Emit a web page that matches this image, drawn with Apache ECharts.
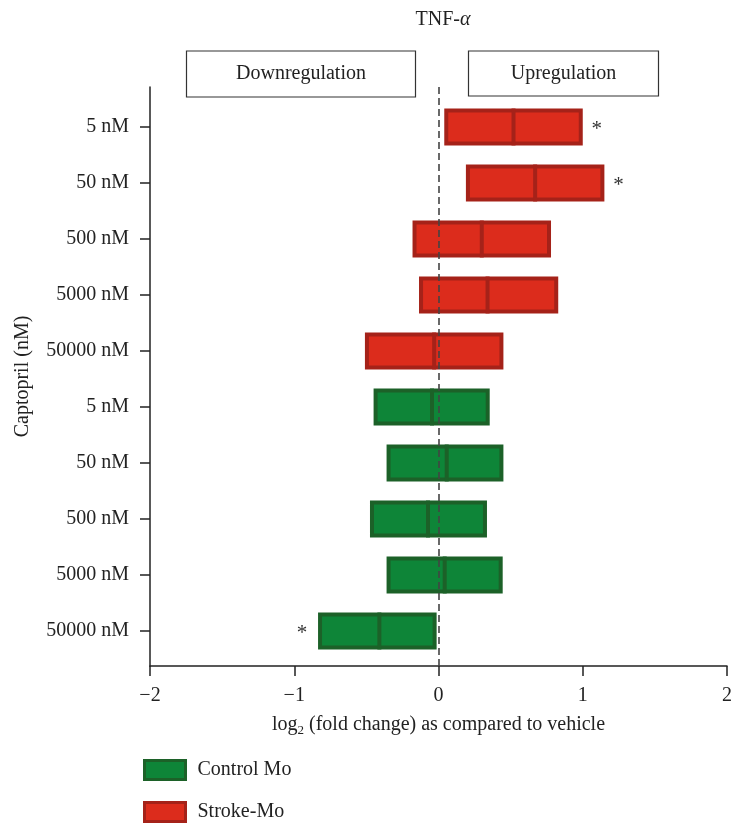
<!DOCTYPE html>
<html>
<head>
<meta charset="utf-8">
<script src="https://cdn.jsdelivr.net/npm/echarts@6/dist/echarts.min.js"></script>
<style>html,body{margin:0;padding:0;background:#fff}#c{width:736px;height:825px}</style>
</head>
<body>
<div id="c"></div>
<script>
// ---- data ----
const doseLabels = ['5 nM', '50 nM', '500 nM', '5000 nM', '50000 nM'];
const rowLabels = doseLabels.concat(doseLabels); // stroke rows then control rows
const strokeLow  = [0.04, 0.19, -0.18, -0.135, -0.51];
const strokeMed  = [0.52, 0.67, 0.30, 0.34, -0.03];
const strokeHigh = [1.00, 1.15, 0.78, 0.83, 0.45];
const strokeSig  = [1, 1, 0, 0, 0];
const controlLow  = [-0.45, -0.36, -0.475, -0.36, -0.835];
const controlMed  = [-0.045, 0.057, -0.073, 0.043, -0.41];
const controlHigh = [0.355, 0.45, 0.336, 0.445, -0.013];
const controlSig  = [0, 0, 0, 0, 1];
const xTicks = [-2, -1, 0, 1, 2];

const FONT = 'Liberation Serif';
const FS = 20;
const red = {fill: '#dc2c1c', border: '#a52219'};
const green = {fill: '#0e8538', border: '#1c6128'};

function rows(offset, lo, md, hi, sig) {
  return lo.map((v, i) => [offset + i, v, md[i], hi[i], sig[i]]);
}
const strokeData = rows(0, strokeLow, strokeMed, strokeHigh, strokeSig);
const controlData = rows(5, controlLow, controlMed, controlHigh, controlSig);

function makeRender(col, sigSide) {
  return function (params, api) {
    const y = api.value(0);
    const pl = api.coord([api.value(1), y]);
    const pm = api.coord([api.value(2), y]);
    const ph = api.coord([api.value(3), y]);
    const h = api.size([0, 1])[1] * 0.66;
    const top = pl[1] - h / 2;
    const children = [
      {type: 'rect', shape: {x: pl[0] + 2, y: top + 2, width: ph[0] - pl[0] - 4, height: h - 4},
       style: {fill: col.fill, stroke: col.border, lineWidth: 4}},
      {type: 'line', shape: {x1: pm[0], y1: top, x2: pm[0], y2: top + h},
       style: {stroke: col.border, lineWidth: 4}}
    ];
    if (api.value(4)) {
      const x = sigSide === 'right' ? ph[0] + 14 : pl[0] - 16;
      children.push({type: 'text', x: x, y: pl[1] + 2,
        style: {text: '*', fill: '#333', font: '21px ' + FONT, align: 'center', verticalAlign: 'middle'}});
    }
    return {type: 'group', children: children};
  };
}

const chart = echarts.init(document.getElementById('c'), null, {renderer: 'canvas'});
chart.setOption({
  animation: false,
  backgroundColor: '#fff',
  textStyle: {fontFamily: FONT},
  title: {
    text: 'TNF-{a|α}', left: 438, top: 5, textAlign: 'center',
    textStyle: {fontFamily: FONT, fontSize: FS, fontWeight: 'normal', color: '#222',
      rich: {a: {fontFamily: FONT, fontSize: FS, fontStyle: 'italic', color: '#222'}}}
  },
  grid: {left: 150, right: 9, top: 87, bottom: 159, containLabel: false, outerBoundsMode: 'none'},
  xAxis: {
    type: 'value', min: -2, max: 2, interval: 1,
    name: 'log{s|2} (fold change) as compared to vehicle',
    nameLocation: 'middle', nameGap: 46,
    nameTextStyle: {fontFamily: FONT, fontSize: FS, color: '#222',
      rich: {s: {fontFamily: FONT, fontSize: 13, color: '#222', verticalAlign: 'bottom', padding: [12, 0, 0, 0]}}},
    axisLine: {show: true, onZero: false, lineStyle: {color: '#222', width: 1.5}},
    axisTick: {show: true, length: 10, lineStyle: {color: '#222', width: 1.5}},
    axisLabel: {fontFamily: FONT, fontSize: FS, color: '#222', margin: 20,
      customValues: xTicks,
      formatter: v => (v < 0 ? '\u2212' + Math.abs(v) : String(v))},
    splitLine: {show: false}
  },
  yAxis: {
    type: 'value', inverse: true, min: -0.714, max: 9.625,
    name: 'Captopril (nM)', nameLocation: 'middle', nameGap: 117, nameRotate: 90,
    nameTextStyle: {fontFamily: FONT, fontSize: FS, color: '#222'},
    axisLine: {show: true, onZero: false, lineStyle: {color: '#222', width: 1.5}},
    axisTick: {show: true, length: 10, customValues: rowLabels.map((_, i) => i),
      lineStyle: {color: '#222', width: 1.5}},
    axisLabel: {fontFamily: FONT, fontSize: FS, color: '#222', margin: 21,
      customValues: rowLabels.map((_, i) => i),
      formatter: v => rowLabels[Math.round(v)]},
    splitLine: {show: false}
  },
  legend: {
    orient: 'vertical', left: 143, top: 759, height: 80, padding: 0,
    itemWidth: 41, itemHeight: 19, itemGap: 20,
    textStyle: {fontFamily: FONT, fontSize: FS, lineHeight: 19, color: '#222', padding: [0, 0, 0, 7]},
    data: [
      {name: 'Control Mo', icon: 'rect', itemStyle: {color: green.fill, borderColor: green.border, borderWidth: 3}},
      {name: 'Stroke-Mo', icon: 'rect', itemStyle: {color: red.fill, borderColor: red.border, borderWidth: 3}}
    ]
  },
  graphic: [
    {type: 'rect', shape: {x: 186.5, y: 51, width: 229, height: 46},
     style: {fill: '#fff', stroke: '#333', lineWidth: 1.2}, z: 10},
    {type: 'text', x: 301, y: 74, z: 11,
     style: {text: 'Downregulation', font: FS + 'px ' + FONT, fill: '#222', align: 'center', verticalAlign: 'middle'}},
    {type: 'rect', shape: {x: 468.5, y: 51, width: 190, height: 45},
     style: {fill: '#fff', stroke: '#333', lineWidth: 1.2}, z: 10},
    {type: 'text', x: 563.5, y: 74, z: 11,
     style: {text: 'Upregulation', font: FS + 'px ' + FONT, fill: '#222', align: 'center', verticalAlign: 'middle'}}
  ],
  series: [
    {name: 'Control Mo', type: 'custom', renderItem: makeRender(green, 'left'),
     itemStyle: {color: green.fill}, encode: {x: [1, 2, 3], y: 0}, data: controlData, z: 3},
    {name: 'Stroke-Mo', type: 'custom', renderItem: makeRender(red, 'right'),
     itemStyle: {color: red.fill}, encode: {x: [1, 2, 3], y: 0}, data: strokeData, z: 3,
     markLine: {silent: true, symbol: 'none', label: {show: false}, z: 5,
       lineStyle: {color: '#444', width: 1.6, type: [7, 4]},
       data: [{xAxis: 0}]}}
  ]
});
</script>
</body>
</html>
